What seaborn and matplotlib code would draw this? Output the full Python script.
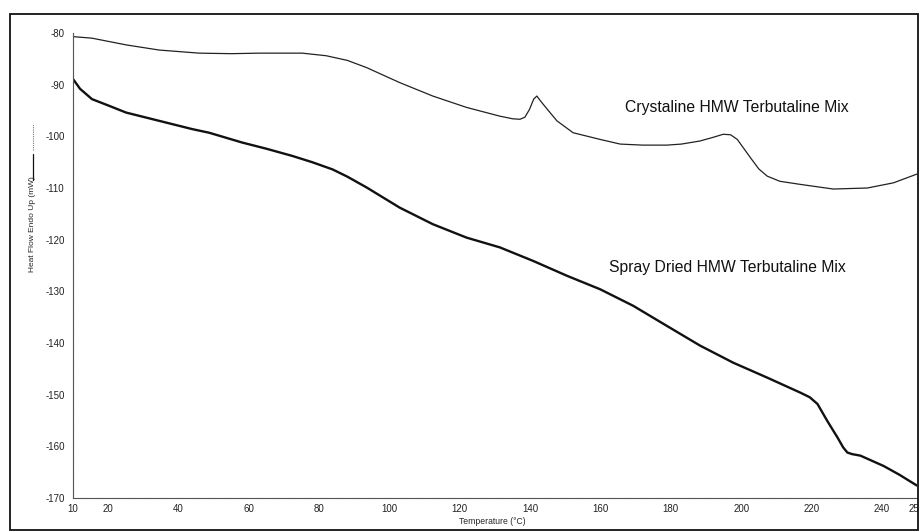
import matplotlib
matplotlib.use("Agg")
import matplotlib.pyplot as plt
import seaborn as sns
import pandas as pd
from matplotlib.lines import Line2D
from matplotlib.patches import Rectangle

# Crystalline HMW Terbutaline Mix (thin trace)
cryst_temp = [10, 15.4, 25.1, 34.5, 45.9, 55, 63, 70, 75.2, 82, 88, 93.5, 102.9, 112.3,
              121.9, 131.4, 135, 137.1, 138.5, 139.8, 141, 141.9, 143, 144.8, 147.6,
              152.2, 159.9, 165.6, 172, 178.9, 183, 188.3, 192, 194.9, 197, 198.9,
              202.6, 205, 207.4, 211, 216.8, 226.2, 235.9, 243.3, 250]
cryst_flow = [-80.7, -81.0, -82.3, -83.3, -83.9, -84.0, -83.9, -83.9, -83.9, -84.4, -85.3,
              -86.7, -89.6, -92.2, -94.4, -96.1, -96.6, -96.7, -96.3, -94.8, -92.8, -92.2,
              -93.2, -94.7, -97.0, -99.3, -100.6, -101.5, -101.7, -101.7, -101.5, -100.9,
              -100.2, -99.6, -99.7, -100.6, -104.1, -106.3, -107.7, -108.7, -109.3,
              -110.2, -110.0, -109.0, -107.3]

# Spray Dried HMW Terbutaline Mix (thick trace)
spray_temp = [10, 12, 15.4, 20.3, 25.1, 34.5, 43.9, 48.7, 58.1, 65, 72.4, 78, 83.8, 88,
              93.5, 102.9, 112.3, 121.9, 131.4, 140.8, 150.5, 159.9, 169.3, 178.9, 188.3,
              197.7, 207.4, 216.8, 219.5, 221.7, 224.5, 227.4, 229, 230.2, 231.5, 233.9,
              240.5, 245, 250]
spray_flow = [-88.9, -90.8, -92.8, -94.1, -95.4, -97.0, -98.6, -99.3, -101.2, -102.4,
              -103.8, -105.0, -106.4, -107.8, -109.9, -113.8, -117.0, -119.6, -121.5,
              -124.1, -127.0, -129.6, -132.8, -136.7, -140.5, -143.8, -146.7, -149.6,
              -150.5, -151.8, -155.1, -158.3, -160.2, -161.2, -161.5, -161.8, -163.8,
              -165.5, -167.6]

x_ticks = [10, 20, 40, 60, 80, 100, 120, 140, 160, 180, 200, 220, 240, 250]
y_ticks = [-80, -90, -100, -110, -120, -130, -140, -150, -160, -170]

sns.set_style("white")
plt.rcParams['font.family'] = ['Liberation Sans', 'DejaVu Sans']

W, H = 920, 531
fig = plt.figure(figsize=(W / 100, H / 100), dpi=100)
ax = fig.add_axes([73 / W, 1 - 498 / H, (917 - 73) / W, (498 - 33) / H])

df_c = pd.DataFrame({"T": cryst_temp, "F": cryst_flow})
df_s = pd.DataFrame({"T": spray_temp, "F": spray_flow})
sns.lineplot(data=df_c, x="T", y="F", ax=ax, color="#222222", linewidth=0.9,
             sort=False, estimator=None)
sns.lineplot(data=df_s, x="T", y="F", ax=ax, color="#111111", linewidth=1.7,
             sort=False, estimator=None)

ax.set_xlim(10, 250)
ax.set_ylim(-170, -80)
ax.set_xticks(x_ticks)
ax.set_yticks(y_ticks)
ax.set_xticklabels([str(t) for t in x_ticks], fontsize=7)
ax.set_yticklabels([str(t) for t in y_ticks], fontsize=7)
ax.tick_params(axis='x', direction='in', length=3, width=0.7, pad=4, colors='#222222')
ax.tick_params(axis='y', direction='out', length=3, width=0.7, pad=3, colors='#222222')
ax.set_xlabel("")
ax.set_ylabel("")
for s in ["top", "right"]:
    ax.spines[s].set_visible(False)
for s in ["left", "bottom"]:
    ax.spines[s].set_color("#555555")
    ax.spines[s].set_linewidth(0.8)
    ax.spines[s].set_linestyle((0, (1, 0.6)))

ax.text(167, -94.5, "Crystaline HMW Terbutaline Mix", fontsize=11.3, va='center',
        ha='left', color='#111111')
ax.text(162.4, -125.3, "Spray Dried HMW Terbutaline Mix", fontsize=11.3, va='center',
        ha='left', color='#111111')

fig.text(492 / W, 1 - 522 / H, "Temperature (°C)", fontsize=6.2, ha='center', va='center')
fig.text(33 / W, 1 - 224 / H, "Heat Flow Endo Up (mW)", fontsize=6, rotation=90,
         ha='center', va='center')
# legend marks beside the y label
fig.add_artist(Line2D([33 / W, 33 / W], [1 - 180 / H, 1 - 154 / H], color='#111111',
                      linewidth=0.9, transform=fig.transFigure))
fig.add_artist(Line2D([33 / W, 33 / W], [1 - 150 / H, 1 - 124 / H], color='#777777',
                      linewidth=0.8, linestyle=(0, (1, 1)), transform=fig.transFigure))

# outer frame
fig.add_artist(Rectangle((10 / W, 1 - 530 / H), (918 - 10) / W, (530 - 14) / H,
                         fill=False, edgecolor='#111111', linewidth=1.3,
                         transform=fig.transFigure))

fig.savefig("out.png", dpi=100)
